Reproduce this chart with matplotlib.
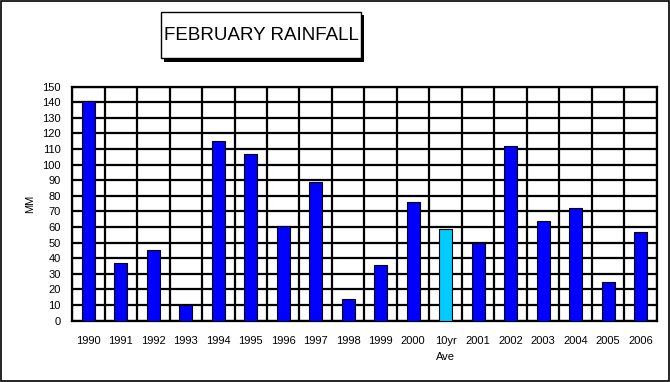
import matplotlib
matplotlib.use("Agg")
import matplotlib.pyplot as plt
from matplotlib.patches import Rectangle
import numpy as np

# data
labels = ['1990', '1991', '1992', '1993', '1994', '1995', '1996', '1997', '1998',
          '1999', '2000', '10yr\nAve', '2001', '2002', '2003', '2004', '2005', '2006']
rainfall_mm = [141, 37, 45, 10, 115, 107, 61, 89, 14,
               36, 76, 59, 50, 112, 64, 72, 25, 57]
bar_colors = ['#0000FF'] * 11 + ['#00CCFF'] + ['#0000FF'] * 6

plt.rcParams['font.family'] = ['Liberation Sans', 'DejaVu Sans']

fig = plt.figure(figsize=(6.7, 3.82), dpi=100)
fig.patch.set_facecolor('white')

# outer border of the picture
fig.patches.append(Rectangle((0.001, 0.002), 0.997, 0.996, transform=fig.transFigure,
                             fill=False, edgecolor='black', linewidth=1.2))

ax = fig.add_axes([0.1075, 0.1605, 0.873, 0.6126])
x = np.arange(len(labels))
ax.bar(x, rainfall_mm, width=0.4, color=bar_colors, edgecolor='black', linewidth=0.8, zorder=3)

ax.set_xlim(-0.5, len(labels) - 0.5)
ax.set_ylim(0, 150)
ax.set_yticks(np.arange(0, 151, 10))
ax.set_xticks(x)
ax.set_xticklabels(labels, linespacing=1.7)
ax.set_xticks(np.arange(-0.5, len(labels), 1), minor=True)

ax.grid(True, which='major', axis='y', color='black', linewidth=1.6, zorder=1)
ax.grid(True, which='minor', axis='x', color='black', linewidth=1.6, zorder=1)
ax.set_axisbelow(True)

ax.tick_params(axis='y', length=0, pad=8, labelsize=8)
ax.tick_params(axis='x', which='major', direction='in', length=3, width=1,
               pad=11, labelsize=8)
ax.tick_params(axis='x', which='minor', length=0)
for s in ax.spines.values():
    s.set_linewidth(1.6)
    s.set_color('black')

ax.set_ylabel('MM', fontsize=8, labelpad=5)

# title box with drop shadow
fig.patches.append(Rectangle((0.2403 + 0.0045, 0.847 - 0.008), 0.2985, 0.1205,
                             transform=fig.transFigure, facecolor='black',
                             edgecolor='black', linewidth=0))
fig.patches.append(Rectangle((0.2403, 0.847), 0.2985, 0.1205,
                             transform=fig.transFigure, facecolor='white',
                             edgecolor='black', linewidth=1))
fig.text(0.3895, 0.906, 'FEBRUARY RAINFALL', ha='center', va='center', fontsize=13.5)

fig.savefig('out.png', dpi=100)
